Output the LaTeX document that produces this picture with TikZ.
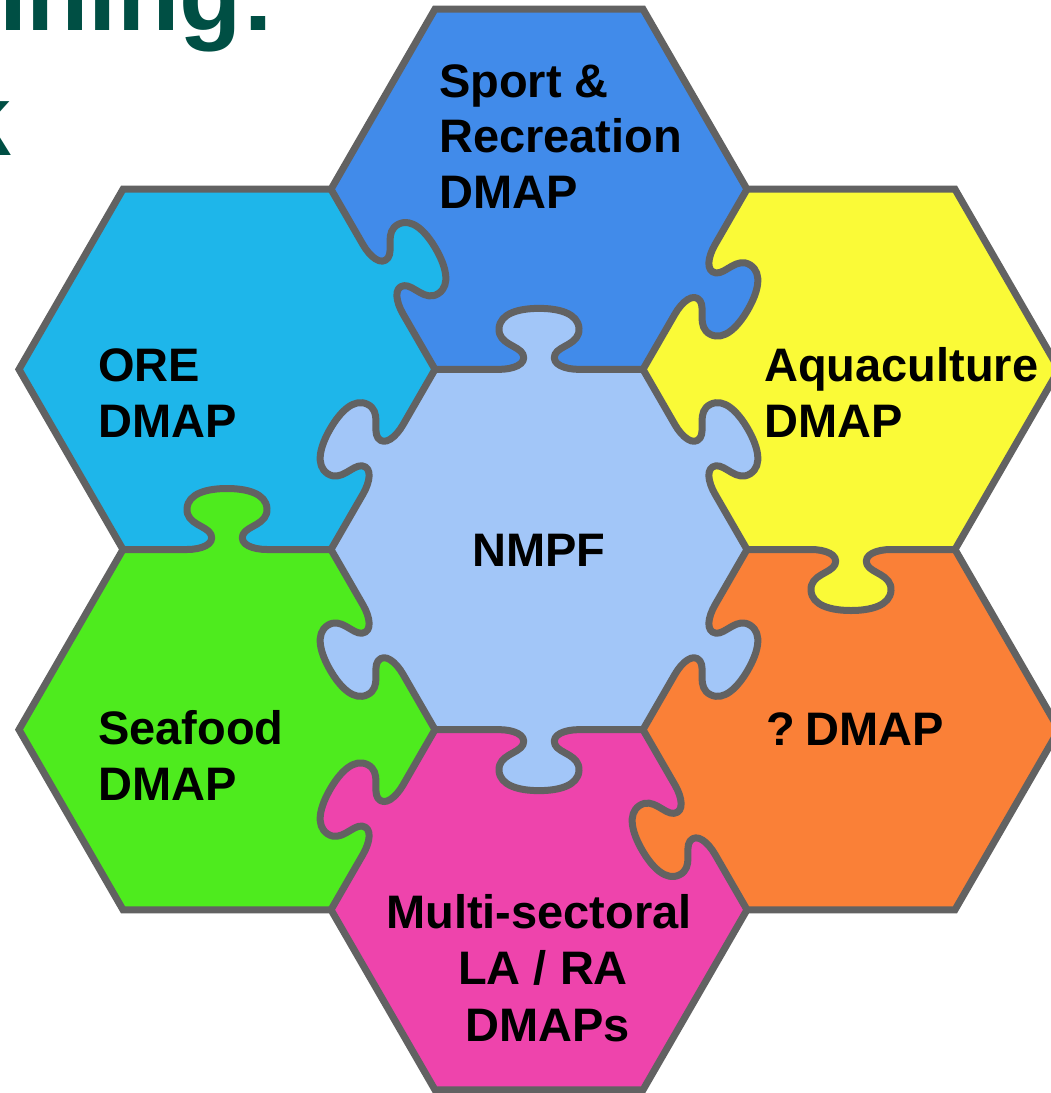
\documentclass[tikz,border=0pt]{standalone}
\usepackage{fontspec}
\setmainfont{Liberation Sans}
\definecolor{edgegray}{RGB}{98,98,98}
\definecolor{nmpf}{RGB}{162,198,248}
\definecolor{sport}{RGB}{65,139,234}
\definecolor{ore}{RGB}{30,182,234}
\definecolor{aqua}{RGB}{250,250,55}
\definecolor{qorange}{RGB}{250,128,55}
\definecolor{multi}{RGB}{238,68,172}
\definecolor{seafood}{RGB}{78,235,30}
\definecolor{titlecol}{RGB}{0,79,68}
\begin{document}
\begin{tikzpicture}[x=1pt,y=-1pt,
  edge/.style={draw=edgegray, line width=7pt, line join=round, line cap=round},
  rim/.style={draw=edgegray, line width=7pt, line join=miter},
  lbl/.style={anchor=base west, inner sep=0pt, font=\fontsize{47}{56}\selectfont\bfseries},
  ttl/.style={anchor=base east, inner sep=0pt, text=titlecol, font=\fontsize{102}{122}\selectfont\bfseries}]
\useasboundingbox (0,0) rectangle (1051,1093);
\clip (0,0) rectangle (1051,1093);
\fill[white] (0,0) rectangle (1051,1093);

% title fragments (cut by the picture's edge, as in the reference)
\node[ttl] (title1) at (276,30) {nning:};
\node[ttl] (title2) at (11,155) {k};

% plain hexagon fills
\foreach \cx/\cy/\col in {539/549.5/nmpf, 539/189.24/sport, 851/369.37/aqua,
  851/729.63/qorange, 539/909.76/multi, 227/729.63/seafood, 227/369.37/ore}
  \fill[\col, shift={(\cx,\cy)}] (208,0) -- (104,-180.13) -- (-104,-180.13)
     -- (-208,0) -- (-104,180.13) -- (104,180.13) -- cycle;

% shared edges with puzzle knobs (knob points toward the receiving piece)
\foreach \mx/\my/\th/\col in {539/369.37/180/nmpf, 695/459.43/120/nmpf,
  695/639.57/60/nmpf, 539/729.63/0/nmpf, 383/639.57/300/nmpf, 383/459.43/240/nmpf,
  383/279.3/120/ore, 695/279.3/60/sport, 851/549.5/0/aqua,
  695/819.7/300/qorange, 383/819.7/240/multi, 227/549.5/180/seafood}
{
  \begin{scope}[shift={(\mx,\my)}, rotate=\th]
    \fill[\col] (-40,-4) -- (-40,0) .. controls (-26,0) and (-12,5) .. (-16,15)
      .. controls (-20,24) and (-41,25) .. (-40,41)
      .. controls (-39,56) and (-20,61) .. (0,61)
      .. controls (20,61) and (39,56) .. (40,41)
      .. controls (41,25) and (20,24) .. (16,15)
      .. controls (12,5) and (26,0) .. (40,0) -- (40,-4) -- cycle;
    \draw[edge] (-104,0) -- (-40,0) .. controls (-26,0) and (-12,5) .. (-16,15)
      .. controls (-20,24) and (-41,25) .. (-40,41)
      .. controls (-39,56) and (-20,61) .. (0,61)
      .. controls (20,61) and (39,56) .. (40,41)
      .. controls (41,25) and (20,24) .. (16,15)
      .. controls (12,5) and (26,0) .. (40,0) -- (104,0);
  \end{scope}
}

% outer rim of the cluster
\draw[rim] (331,189.24) -- (435,9.11) -- (643,9.11) -- (747,189.24) -- (955,189.24)
  -- (1059,369.37) -- (955,549.5) -- (1059,729.63) -- (955,909.76) -- (747,909.76)
  -- (643,1089.89) -- (435,1089.89) -- (331,909.76) -- (123,909.76) -- (19,729.63)
  -- (123,549.5) -- (19,369.37) -- (123,189.24) -- cycle;

% labels
\node[lbl] (sport1) at (439,97) {Sport \&};
\node[lbl] (sport2) at (439,152) {Recreation};
\node[lbl] (sport3) at (439,208) {DMAP};
\node[lbl] (ore1) at (98,381) {ORE};
\node[lbl] (ore2) at (98,437) {DMAP};
\node[lbl] (aqua1) at (764,381) {Aquaculture};
\node[lbl] (aqua2) at (764,437) {DMAP};
\node[lbl] (nmpfl) at (472,566) {NMPF};
\node[lbl] (sea1) at (98,744) {Seafood};
\node[lbl] (sea2) at (98,800) {DMAP};
\node[lbl] (q1) at (766,745) {?\hspace{0.22em}DMAP};
\node[lbl] (multi1) at (386,928) {Multi-sectoral};
\node[lbl] (multi2) at (458,984) {LA / RA};
\node[lbl] (multi3) at (465,1041) {DMAPs};
\end{tikzpicture}
\end{document}
